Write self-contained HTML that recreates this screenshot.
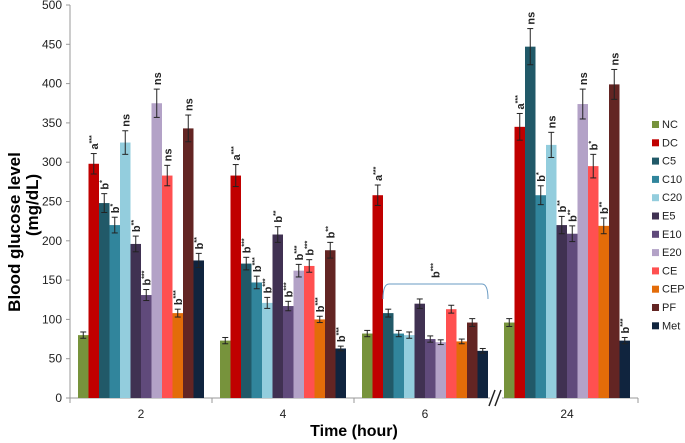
<!DOCTYPE html>
<html><head><meta charset="utf-8"><style>
body{margin:0;background:#fff;}
svg{display:block;font-family:"Liberation Sans",Arial,sans-serif;}
</style></head><body>
<svg id="chart" width="685" height="443" viewBox="0 0 685 443" xmlns="http://www.w3.org/2000/svg">
<g id="axes"></g>
<g id="bars"></g>
<g id="legend"></g>
<text transform="translate(20,232) rotate(-90)" text-anchor="middle" font-size="17" font-weight="bold">Blood glucose level</text>
<text transform="translate(38,205) rotate(-90)" text-anchor="middle" font-size="17" font-weight="bold">(mg/dL)</text>
<text x="354" y="436" text-anchor="middle" font-size="16" font-weight="bold">Time (hour)</text>
</svg>
<script>
const categories = ["2","4","6","24"];
const seriesNames = ["NC","DC","C5","C10","C20","E5","E10","E20","CE","CEP","PF","Met"];
const colors = ["#77933c","#c00000","#215968","#31859c","#93cddd","#403152","#604a7b","#b3a2c7","#ff5050","#e36c09","#632523","#10243e"];
const values = [
 [80,298,248,220,325,196,131,375,283,108,343,175],
 [73,283,171,147,121,208,117,162,168,100,188,63],
 [82,258,108,82,80,120,75,71,113,72,96,60],
 [96,345,447,258,322,220,209,374,295,219,399,73]
];
const errors = [
 [4,13,12,10,15,10,7,18,13,5,17,9],
 [4,14,8,8,7,10,6,8,8,4,10,3],
 [4,13,5,4,4,6,4,3,5,3,5,3],
 [5,17,23,12,16,11,10,19,15,10,19,4]
];
const sigLabels = [
 ["","a***","b*","b*","ns","b**","b***","ns","ns","b***","ns","b**"],
 ["","a***","b***","b***","b***","b**","b***","b***","b***","b***","b**","b***"],
 ["","a***","","","","","","","","","",""],
 ["","a***","ns","b*","ns","b**","b**","ns","b*","b**","ns","b***"]
];
const yTicks = [0,50,100,150,200,250,300,350,400,450,500];

const NS="http://www.w3.org/2000/svg";
const X0=70, X1=638, Y0=398, Ytop=5, YMAX=500;
const yS=v=>Y0-(Y0-Ytop)*v/YMAX;
const catW=(X1-X0)/categories.length;
const barW=10.5;
const groupStart=i=>X0+i*catW+(catW-barW*seriesNames.length)/2;
function mk(tag,attrs,parent){const e=document.createElementNS(NS,tag);for(const k in attrs)e.setAttribute(k,attrs[k]);parent.appendChild(e);return e;}
const axes=document.getElementById('axes'), bars=document.getElementById('bars'), legend=document.getElementById('legend');

let ax=mk('line',{x1:X0,y1:Ytop,x2:X0,y2:Y0,stroke:'#999','stroke-width':1},axes);

let xl=mk('line',{x1:X0,y1:Y0,x2:X1,y2:Y0,stroke:'#999','stroke-width':1},axes);

yTicks.forEach(t=>{
 const y=yS(t);
 mk('line',{x1:X0-4,y1:y,x2:X0,y2:y,stroke:'#999'},axes);
 const tx=mk('text',{x:X0-8,y:y+4,'text-anchor':'end','font-size':12,fill:'#222'},axes);
 tx.textContent=t;
 
 
});
for(let i=0;i<=categories.length;i++){mk('line',{x1:X0+i*catW,y1:Y0,x2:X0+i*catW,y2:Y0+5,stroke:'#999'},axes);}
categories.forEach((c,i)=>{
 const tx=mk('text',{x:X0+(i+0.5)*catW,y:Y0+20,'text-anchor':'middle','font-size':12,fill:'#222'},axes);
 tx.textContent=c;
 
 
});
const bx=X0+3*catW;
mk('rect',{x:bx-6,y:Y0-8,width:12,height:16,fill:'#fff'},axes);
mk('line',{x1:bx-7,y1:Y0+8,x2:bx-1,y2:Y0-8,stroke:'#222','stroke-width':1.5},axes);
mk('line',{x1:bx-1,y1:Y0+8,x2:bx+5,y2:Y0-8,stroke:'#222','stroke-width':1.5},axes);

values.forEach((row,i)=>{
 row.forEach((v,j)=>{
  const x=groupStart(i)+j*barW, y=yS(v);
  const r=mk('rect',{x:x,y:y,width:barW,height:Y0-y,fill:colors[j]},bars);
  
  
  const cx=x+barW/2, e=errors[i][j], yt=yS(v+e), yb=yS(v-e);
  mk('line',{x1:cx,y1:yt,x2:cx,y2:yb,stroke:'#222','stroke-width':1},bars);
  mk('line',{x1:cx-3,y1:yt,x2:cx+3,y2:yt,stroke:'#222','stroke-width':1},bars);
  mk('line',{x1:cx-3,y1:yb,x2:cx+3,y2:yb,stroke:'#222','stroke-width':1},bars);
  const lab=sigLabels[i][j];
  if(lab){
   const t=mk('text',{transform:`translate(${cx+4},${yt-4}) rotate(-90)`,'font-size':11,'font-weight':'bold',fill:'#222'},bars);
   const base=lab.replace(/\*/g,''), stars=lab.slice(base.length);
   t.textContent=base;
   if(stars){const ts=mk('tspan',{'font-size':7,dy:-4},t);ts.textContent=stars;}
   
   
  }
 });
});
const bL=groupStart(2)+2*barW, bR=groupStart(2)+12*barW, by=yS(145);
const br=mk('path',{d:`M${bL},${by+15} Q${bL},${by} ${bL+6},${by} L${bR-6},${by} Q${bR},${by} ${bR},${by+15}`,fill:'none',stroke:'#6a9bc3','stroke-width':1},bars);


const bt=mk('text',{transform:`translate(${(bL+bR)/2+4},${by-6}) rotate(-90)`,'font-size':11,'font-weight':'bold',fill:'#222'},bars);
bt.textContent='b';
const bts=mk('tspan',{'font-size':7,dy:-4},bt);bts.textContent='***';



seriesNames.forEach((n,j)=>{
 const y=128+j*18.3;
 const g=mk('g',{},legend);
 
 
 mk('rect',{x:652,y:y-7,width:7,height:7,fill:colors[j]},g);
 const t=mk('text',{x:662,y:y,'font-size':11,fill:'#222'},g);
 t.textContent=n;
});
</script>
</body></html>
